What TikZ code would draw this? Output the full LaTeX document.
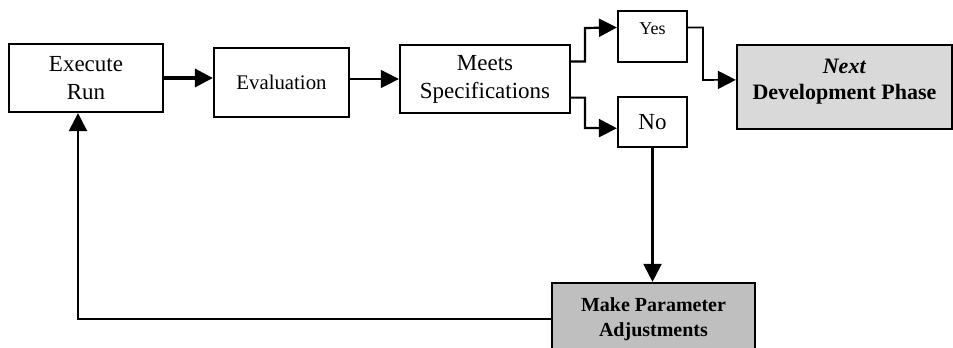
\documentclass[tikz,border=0pt]{standalone}
\usepackage{fontspec}
\setmainfont{Liberation Serif}
\usetikzlibrary{positioning,arrows.meta,calc}

\begin{document}
\begin{tikzpicture}[x=0.5pt, y=-0.5pt,
  block/.style={draw, line width=1.1pt, align=center, inner sep=1pt, font=\fontsize{11.5}{14}\selectfont},
  shaded/.style={block, font=\bfseries\fontsize{11}{13}\selectfont},
  arrow/.style={-{Triangle[length=9pt,width=9pt]}, line width=1.1pt},
  thickarr/.style={arrow, line width=1.7pt},
  thinarr/.style={arrow, line width=0.6pt}
]
  \useasboundingbox (0,0) rectangle (953,348);

  \node[block, minimum width=77pt, minimum height=34pt] (run) at (86,78) {Execute\\Run};
  \node[block, minimum width=67.5pt, minimum height=34.5pt, font=\fontsize{10.4}{12}\selectfont] (eval) at (281.5,82.5) {Evaluation};
  \node[block, minimum width=85pt, minimum height=34pt] (meets) at (485,79) {Meets\\Specifications};
  \node[block, minimum width=34.5pt, minimum height=25.5pt, font=\fontsize{9}{11}\selectfont, text height=6.5pt, text depth=9pt] (yes) at (652.5,36.5) {Yes};
  \node[block, minimum width=34.5pt, minimum height=25pt] (no) at (652.5,122) {No};
  \node[shaded, fill=black!15, minimum width=107.5pt, minimum height=42pt, text depth=8pt] (next) at (844.5,87) {\textit{Next}\\Development Phase};
  \node[shaded, fill=black!25, minimum width=101.5pt, minimum height=36pt, font=\bfseries\fontsize{10}{12.5}\selectfont] (adj) at (653.5,319) {Make Parameter\\Adjustments};

  % main line
  \draw[thickarr] (run) -- (run -| eval.west);
  \draw[thinarr] (eval.east |- meets) -- (meets.west);

  % decision branches
  \coordinate (split) at (585,0);
  \draw[arrow] ($(meets.north east)!0.25!(meets.south east)$) -| (split |- 0,28) -- ($(yes.north west)!0.33!(yes.south west)$);
  \draw[arrow] ($(meets.north east)!0.765!(meets.south east)$) -| (split |- 0,128) -- ($(no.north west)!0.62!(no.south west)$);
  \draw[arrow, line width=0.8pt] ($(yes.north east)!0.33!(yes.south east)$) -| (703,80) -- ($(next.north west)!0.417!(next.south west)$);

  % feedback loop
  \draw[arrow] (no.south) -- (no.south |- adj.north);
  \draw[arrow] (adj.west) -| ($(run.south)+(-8,0)$);
\end{tikzpicture}
\end{document}
